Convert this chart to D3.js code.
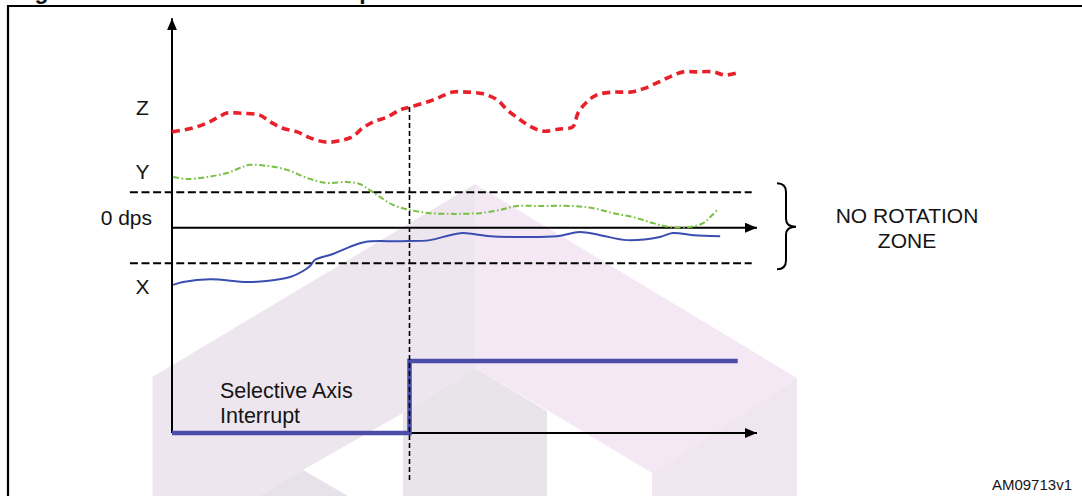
<!DOCTYPE html>
<html><head><meta charset="utf-8">
<script src="https://cdn.jsdelivr.net/npm/d3@7"></script>
<style>
html,body{margin:0;padding:0;background:#fff;overflow:hidden}
svg{display:block}
text{font-family:"Liberation Sans",Arial,Helvetica,sans-serif;fill:#141414}
</style>
</head><body>
<svg id="c" width="1082" height="496"></svg>
<script>
// ---- data (time in % of the shown window, signals in threshold units) ----
const zTime  = [0,3.6,6.0,7.7,9.4,12.1,15.0,16.8,18.8,21.4,23.6,26.5,29.2,31.0,32.6,34.4,36.8,39.0,40.7,43.6,45.8,48.0,50.4,53.2,55.6,57.3,59.5,61.2,63.4,66.3,68.5,69.4,70.9,72.6,75.4,78.3,80.5,82.9,85.1,87.4,89.7,92.5,94.5,96.6];
const zValues= [2.70,2.81,2.95,3.09,3.23,3.22,3.17,2.98,2.81,2.70,2.53,2.41,2.47,2.58,2.81,2.98,3.12,3.32,3.40,3.54,3.68,3.82,3.82,3.77,3.60,3.32,3.04,2.86,2.72,2.78,2.84,3.23,3.54,3.74,3.82,3.82,3.91,4.08,4.25,4.39,4.39,4.39,4.30,4.36];

const yTime  = [0.2,2.6,6.0,9.4,11.6,13.3,16.2,19.7,23.1,26.5,29.9,32.1,33.8,35.6,37.8,40.7,44.1,47.5,49.2,52.6,56.1,59.0,62.9,68.5,72.0,75.4,78.8,82.2,85.1,88.5,90.8,92.0,93.2];
const yValues= [1.43,1.37,1.43,1.54,1.68,1.77,1.74,1.63,1.40,1.26,1.29,1.23,1.06,0.86,0.64,0.50,0.41,0.39,0.39,0.41,0.50,0.61,0.61,0.61,0.55,0.41,0.30,0.13,0.02,0.02,0.13,0.30,0.50];

const xTime  = [0.2,1.9,6.5,12.8,16.2,20.2,22.4,23.6,24.4,27.5,30.4,33.0,39.0,44.1,47.5,49.7,54.4,58.3,65.8,69.7,73.2,77.8,83.4,85.6,89.1,93.7];
const xValues= [-1.61,-1.53,-1.45,-1.53,-1.50,-1.39,-1.22,-1.08,-0.91,-0.74,-0.54,-0.40,-0.38,-0.35,-0.21,-0.15,-0.24,-0.26,-0.24,-0.12,-0.21,-0.35,-0.26,-0.15,-0.21,-0.24];

const intTime  = [0,40.6,40.6,96.7];
const intValues= [0,0,1,1];

const eventTime = 40.6;
const thresholds = [1,-1];
const thresholdSpan = [-7.2, 99.1];
const axisEnd = 100;
const axisTop = 5.9;

const levelLabels = ["Z","Y","0 dps","X"];
const levelLabelValues = [3.17,1.37,0.08,-1.87];
const zoneLabel = ["NO ROTATION","ZONE"];
const interruptLabel = ["Selective Axis","Interrupt"];
const figureTitle = "Figure 30. Selective axis interrupt";
const docCode = "AM09713v1";

// ---- scales ----
const svg = d3.select("#c");
const x = d3.scaleLinear().domain([0,100]).range([172,757]);
const y = d3.scaleLinear().domain([-1,1]).range([263.2,192.2]);
const yi = d3.scaleLinear().domain([0,1]).range([433,361]);

// ---- watermark (background logo shapes) ----
const wm = svg.append("g");
const poly = (pts, fill) => wm.append("polygon").attr("points", pts.map(p=>p.join(",")).join(" ")).attr("fill", fill);
poly([[152.5,377],[475,184],[475,368],[403,413],[303,470],[258,496],[152.5,496]], "#eee6ef");
poly([[303,470],[348,496],[258,496]], "#e7e2e9");
poly([[475,184],[797,378],[652,473],[547,410],[475,368]], "#f5e8f5");
poly([[403,413],[475,368],[547,411],[547,496],[403,496]], "#e9e3ea");
poly([[652,473],[797,378],[797,496],[652,496]], "#f0e6f0");

// ---- frame & title fragment ----
svg.append("path").attr("d","M8,496 L8,6 L1082,6").attr("fill","none").attr("stroke","#000").attr("stroke-width",2.2);
svg.append("text").attr("x",14).attr("y",-1).attr("font-size",23).attr("font-weight","bold").text(figureTitle);

// ---- markers ----
const defs = svg.append("defs");
defs.append("marker").attr("id","arr").attr("viewBox","0 0 12 10").attr("refX",12).attr("refY",5)
  .attr("markerWidth",12).attr("markerHeight",10).attr("markerUnits","userSpaceOnUse").attr("orient","auto")
  .append("path").attr("d","M0,0 L12,5 L0,10 Z").attr("fill","#000");

// ---- thresholds ----
thresholds.forEach(t=>{
  svg.append("line").attr("x1",x(thresholdSpan[0])).attr("x2",x(thresholdSpan[1]))
    .attr("y1",y(t)).attr("y2",y(t)).attr("stroke","#000").attr("stroke-width",2).attr("stroke-dasharray","8,3.6");
});

// ---- axes ----
svg.append("line").attr("x1",x(0)).attr("x2",x(0)).attr("y1",yi(0)).attr("y2",y(axisTop))
  .attr("stroke","#000").attr("stroke-width",2).attr("marker-end","url(#arr)");
svg.append("line").attr("x1",x(0)).attr("x2",x(axisEnd)).attr("y1",y(0)).attr("y2",y(0))
  .attr("stroke","#000").attr("stroke-width",2).attr("marker-end","url(#arr)");
svg.append("line").attr("x1",x(0)).attr("x2",x(axisEnd)).attr("y1",yi(0)).attr("y2",yi(0))
  .attr("stroke","#000").attr("stroke-width",2).attr("marker-end","url(#arr)");

// ---- signals ----
const line = d3.line().x(d=>x(d[0])).y(d=>y(d[1])).curve(d3.curveCatmullRom.alpha(0.5));
svg.append("path").datum(d3.zip(yTime,yValues)).attr("d",line).attr("fill","none")
  .attr("stroke","#78c043").attr("stroke-width",2).attr("stroke-dasharray","6,2.5,1.6,2.5");
svg.append("path").datum(d3.zip(xTime,xValues)).attr("d",line).attr("fill","none")
  .attr("stroke","#3a4db0").attr("stroke-width",2);
svg.append("path").datum(d3.zip(zTime,zValues)).attr("d",line).attr("fill","none")
  .attr("stroke","#e8202a").attr("stroke-width",3.6).attr("stroke-dasharray","8,5");

// interrupt step
const stepLine = d3.line().x(d=>x(d[0])).y(d=>yi(d[1]));
svg.append("path").datum(d3.zip(intTime,intValues)).attr("d",stepLine).attr("fill","none")
  .attr("stroke","#4a4ca8").attr("stroke-width",4.5);

// event marker (vertical dashed line)
const zAtEvent = zValues[zTime.findIndex(t=>t>=eventTime)];
svg.append("line").attr("x1",x(eventTime)).attr("x2",x(eventTime)).attr("y1",y(zAtEvent)).attr("y2",482)
  .attr("stroke","#000").attr("stroke-width",1.6).attr("stroke-dasharray","5,3");

// ---- labels ----
levelLabels.forEach((l,i)=>{
  const isDps = l==="0 dps";
  svg.append("text").attr("x", isDps?152:142.5).attr("y", y(levelLabelValues[i]))
    .attr("text-anchor", isDps?"end":"middle").attr("font-size",21).text(l);
});

// brace
const bt = y(1)-9, bb = y(-1)+6, bm = y(0)-1, bx = 777;
svg.append("path").attr("d",`M${bx},${bt} Q${bx+9},${bt} ${bx+9},${bt+9} L${bx+9},${bm-8} Q${bx+9},${bm} ${bx+19},${bm} Q${bx+9},${bm} ${bx+9},${bm+8} L${bx+9},${bb-9} Q${bx+9},${bb} ${bx},${bb}`)
  .attr("fill","none").attr("stroke","#000").attr("stroke-width",2);

zoneLabel.forEach((l,i)=>{
  svg.append("text").attr("x",907).attr("y",222.5+i*25.5).attr("text-anchor","middle").attr("font-size",21).text(l);
});
interruptLabel.forEach((l,i)=>{
  svg.append("text").attr("x",220).attr("y",398+i*25).attr("font-size",21.5).text(l);
});
svg.append("text").attr("x",1072).attr("y",490).attr("text-anchor","end").attr("font-size",15).text(docCode);
</script>
</body></html>
